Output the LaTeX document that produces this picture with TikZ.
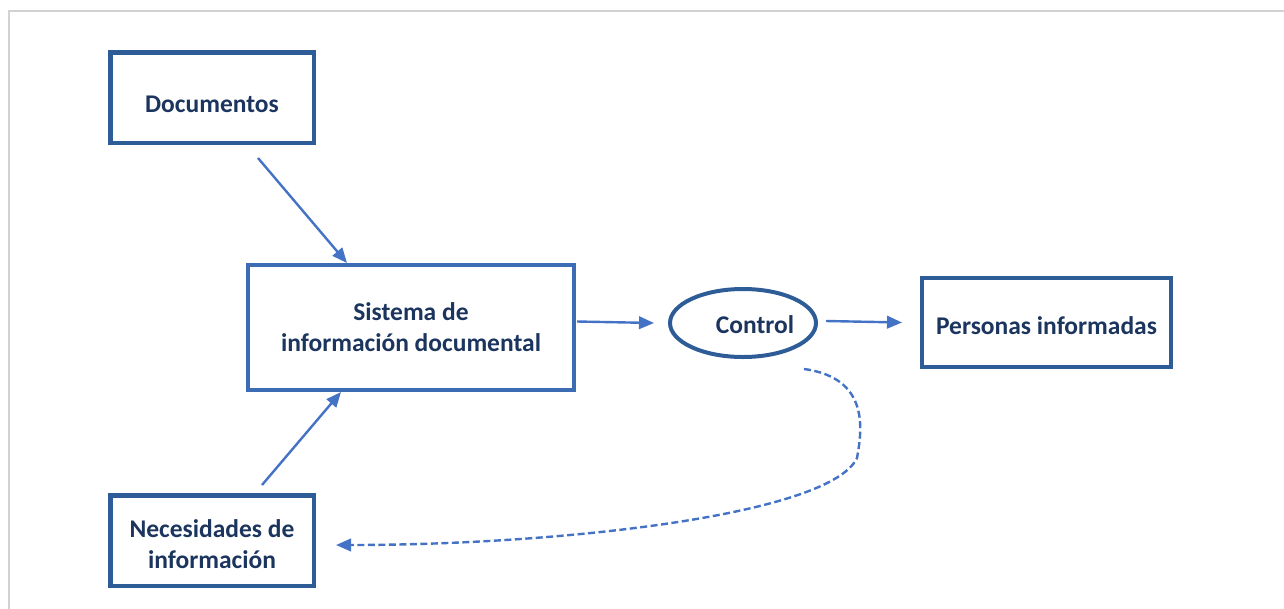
\documentclass[tikz,border=0pt]{standalone}
\usepackage{fontspec}
\setmainfont{Carlito}
\usetikzlibrary{shapes.geometric,arrows.meta}
\definecolor{txtblue}{HTML}{1C355E}
\definecolor{boxblue}{HTML}{2E5C97}
\definecolor{sisblue}{HTML}{3C6DB4}
\definecolor{arrblue}{HTML}{4472C4}
\definecolor{framegray}{HTML}{D2D2D2}
\tikzset{
  box/.style={draw=boxblue, line width=4.5pt, rectangle, inner sep=0pt, align=center,
    text=txtblue, font=\fontsize{25.5}{31}\selectfont\bfseries},
  oval/.style={draw=boxblue, line width=4pt, ellipse, inner sep=0pt,
    minimum width=146pt, minimum height=68pt},
  lbl/.style={text=txtblue, font=\fontsize{25.5}{31}\selectfont\bfseries, inner sep=0pt},
  conn/.style={draw=arrblue, line width=2.4pt, -{Triangle[length=15pt,width=12.5pt]}},
  dconn/.style={conn, dash pattern=on 7pt off 3.5pt},
}
\begin{document}
\begin{tikzpicture}[x=1pt,y=-1pt]
\useasboundingbox (0,0) rectangle (1284,608);
\draw[framegray, line width=1.5pt] (9,610) -- (9,11) -- (1290,11);

\node[box, minimum width=203.5pt, minimum height=90.5pt, text height=30pt] (doc) at (212,97.5) {Documentos};
\node[box, draw=sisblue, line width=4pt, minimum width=326pt, minimum height=125pt] (sis) at (411,327.5) {Sistema de\\información documental};
\node[oval] (ctrl) at (743,323) {};
\node[lbl] (ctrltext) at (755,325) {Control};
\node[box, line width=4pt, minimum width=249pt, minimum height=89pt, text height=24pt] (pers) at (1046.5,322.5) {Personas informadas};
\node[box, minimum width=203.5pt, minimum height=90.5pt] (nec) at (212,540.5) {\rule{0pt}{26pt}Necesidades de\\información};

\draw[conn] ([shift={(46,13)}]doc.south) -- ([shift={(-64,0)}]sis.north);
\draw[conn] ([shift={(50,-8)}]nec.north) -- ([shift={(-70,0)}]sis.south);
\draw[conn] ([shift={(1,-6)}]sis.east) -- ([shift={(-14,0)}]ctrl.west);
\draw[conn] ([shift={(8,-2)}]ctrl.east) -- ([shift={(-18,0)}]pers.west);
\draw[dconn] ([shift={(61,10)}]ctrl.south) .. controls (870,378) and (862,430) .. (857,458)
  .. controls (830,515) and (560,545) .. ([shift={(20,4.5)}]nec.east);
\end{tikzpicture}
\end{document}
